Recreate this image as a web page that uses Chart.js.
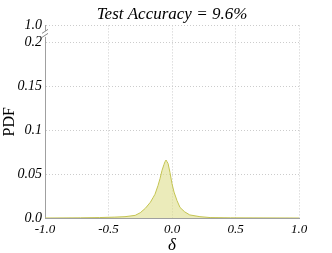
<!DOCTYPE html>
<html>
<head>
<meta charset="utf-8">
<script src="https://cdn.jsdelivr.net/npm/chart.js@4/dist/chart.umd.min.js"></script>
<style>
  html, body { margin: 0; padding: 0; background: #fff; }
  #wrap { width: 332px; height: 253px; }
</style>
</head>
<body>
<div id="wrap"><canvas id="pdfChart" width="332" height="253"></canvas></div>
<script>
// delta bin centres and estimated density
const deltaValues = [-1.0, -0.72, -0.57, -0.45, -0.37, -0.29, -0.25, -0.21, -0.17, -0.15, -0.134, -0.11,
    -0.094, -0.079, -0.063, -0.055, -0.047, -0.039, -0.031, -0.016, 0.0, 0.016, 0.039, 0.063,
    0.10, 0.14, 0.22, 0.30, 0.46, 1.0];
const pdfValues = [0, 0.0002, 0.0005, 0.001, 0.0015, 0.003, 0.006, 0.011, 0.018, 0.023, 0.027, 0.037,
    0.045, 0.054, 0.061, 0.064, 0.066, 0.064, 0.062, 0.052, 0.039, 0.0295, 0.02, 0.012,
    0.007, 0.0035, 0.0015, 0.0005, 0.0002, 0];

const xTicks = [-1.0, -0.5, 0.0, 0.5, 1.0];
const xTickLabels = ['-1.0', '-0.5', '0.0', '0.5', '1.0'];
// broken y axis: 0..0.2, then a jump to 1.0 drawn just above
const yBreakTop = 0.2193;
const yTicks = [0, 0.05, 0.1, 0.15, 0.2, yBreakTop];
const yTickLabels = ['0.0', '0.05', '0.1', '0.15', '0.2', '1.0'];

const serif = "'Liberation Serif', 'DejaVu Serif', serif";

const axisBreak = {
    id: 'axisBreak',
    afterDraw(chart) {
        const { ctx, chartArea, scales } = chart;
        const x = chartArea.left;
        const yMid = (scales.y.getPixelForValue(0.2) + chartArea.top) / 2;
        ctx.save();
        ctx.fillStyle = '#fff';
        ctx.fillRect(x - 2, yMid - 3, 4, 6);
        ctx.strokeStyle = '#888';
        ctx.lineWidth = 1;
        ctx.beginPath();
        ctx.moveTo(x - 3, yMid - 0.5);
        ctx.lineTo(x + 3, yMid - 4.5);
        ctx.moveTo(x - 3, yMid + 3.5);
        ctx.lineTo(x + 3, yMid - 0.5);
        ctx.stroke();
        ctx.restore();
    }
};

new Chart(document.getElementById('pdfChart').getContext('2d'), {
    type: 'line',
    data: {
        datasets: [{
            data: deltaValues.map((d, i) => ({ x: d, y: pdfValues[i] })),
            borderColor: '#c4c452',
            backgroundColor: 'rgba(222, 222, 140, 0.6)',
            borderWidth: 1,
            pointRadius: 0,
            tension: 0,
            fill: 'origin'
        }]
    },
    options: {
        responsive: false,
        animation: false,
        layout: { padding: { left: 0, right: 33, top: 0, bottom: 0 } },
        scales: {
            x: {
                type: 'linear',
                min: -1,
                max: 1,
                afterBuildTicks: (scale) => { scale.ticks = xTicks.map(v => ({ value: v })); },
                afterFit: (scale) => { scale.height = 35; },
                ticks: {
                    padding: 4,
                    color: '#000',
                    font: { family: serif, size: 13, style: 'italic' },
                    callback: (v, i) => xTickLabels[i]
                },
                grid: { color: '#cccccc', drawTicks: false },
                border: { color: '#a0a0a0', dash: [1, 2] },
                title: {
                    display: true,
                    text: 'δ',
                    color: '#000',
                    padding: 0,
                    font: { family: serif, size: 17, style: 'italic', lineHeight: 0.9 }
                }
            },
            y: {
                min: 0,
                max: yBreakTop,
                afterBuildTicks: (scale) => { scale.ticks = yTicks.map(v => ({ value: v })); },
                afterFit: (scale) => { scale.width = 45; },
                ticks: {
                    padding: 3,
                    color: '#000',
                    font: { family: serif, size: 14, style: 'italic' },
                    callback: (v, i) => yTickLabels[i]
                },
                grid: { color: '#cccccc', drawTicks: false },
                border: { color: '#a0a0a0', dash: [1, 2] },
                title: {
                    display: true,
                    text: 'PDF',
                    color: '#000',
                    padding: 0,
                    font: { family: serif, size: 16 }
                }
            }
        },
        plugins: {
            legend: { display: false },
            tooltip: { enabled: false },
            title: {
                display: true,
                fullSize: false,
                text: 'Test Accuracy = 9.6%',
                color: '#000',
                padding: { top: 4, bottom: 1 },
                font: { family: serif, size: 17, style: 'italic', weight: 'normal' }
            }
        }
    },
    plugins: [axisBreak]
});
</script>
</body>
</html>
